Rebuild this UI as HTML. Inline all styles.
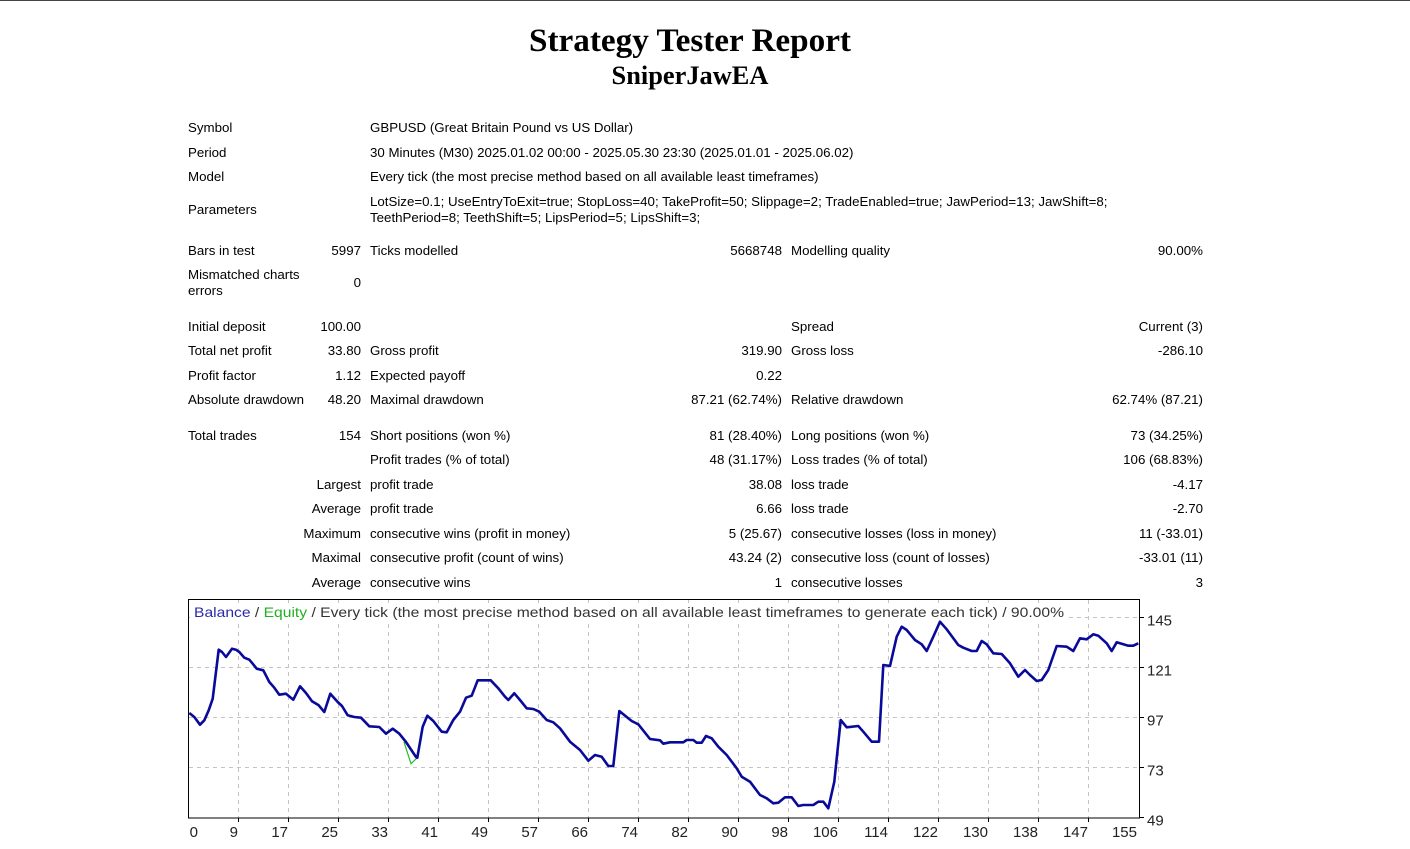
<!DOCTYPE html>
<html>
<head>
<meta charset="utf-8">
<style>
html,body{margin:0;padding:0;width:1410px;height:849px;overflow:hidden;background:#fff;}
body{position:relative;font-family:"Liberation Sans",Arial,sans-serif;font-size:13.3px;color:#000;}
.topline{position:absolute;left:0;top:0;width:1410px;height:1px;background:#444;}
.h1{position:absolute;left:390px;width:600px;text-align:center;font-family:"Liberation Serif","Times New Roman",serif;font-weight:bold;white-space:nowrap;}
.t{position:absolute;line-height:16px;white-space:nowrap;}
.c1{left:188px;}
.c3{left:370px;}
.c5{left:791px;}
.r2{right:1049px;text-align:right;}
.r4{right:628px;text-align:right;}
.r6{right:207px;text-align:right;}
</style>
</head>
<body>
<div class="topline"></div>
<div class="h1" style="top:21px;font-size:33.2px;line-height:40px;">Strategy Tester Report</div>
<div class="h1" style="top:59px;font-size:26.4px;line-height:32px;">SniperJawEA</div>

<div class="t c1" style="top:120px">Symbol</div>
<div class="t c3" style="top:120px">GBPUSD (Great Britain Pound vs US Dollar)</div>

<div class="t c1" style="top:145px">Period</div>
<div class="t c3" style="top:145px">30 Minutes (M30) 2025.01.02 00:00 - 2025.05.30 23:30 (2025.01.01 - 2025.06.02)</div>

<div class="t c1" style="top:169px">Model</div>
<div class="t c3" style="top:169px">Every tick (the most precise method based on all available least timeframes)</div>

<div class="t c1" style="top:202px">Parameters</div>
<div class="t c3" style="top:194px">LotSize=0.1; UseEntryToExit=true; StopLoss=40; TakeProfit=50; Slippage=2; TradeEnabled=true; JawPeriod=13; JawShift=8;</div>
<div class="t c3" style="top:210px">TeethPeriod=8; TeethShift=5; LipsPeriod=5; LipsShift=3;</div>

<div class="t c1" style="top:243px">Bars in test</div>
<div class="t r2" style="top:243px">5997</div>
<div class="t c3" style="top:243px">Ticks modelled</div>
<div class="t r4" style="top:243px">5668748</div>
<div class="t c5" style="top:243px">Modelling quality</div>
<div class="t r6" style="top:243px">90.00%</div>

<div class="t c1" style="top:267px">Mismatched charts</div>
<div class="t c1" style="top:283px">errors</div>
<div class="t r2" style="top:275px">0</div>

<div class="t c1" style="top:319px">Initial deposit</div>
<div class="t r2" style="top:319px">100.00</div>
<div class="t c5" style="top:319px">Spread</div>
<div class="t r6" style="top:319px">Current (3)</div>

<div class="t c1" style="top:343px">Total net profit</div>
<div class="t r2" style="top:343px">33.80</div>
<div class="t c3" style="top:343px">Gross profit</div>
<div class="t r4" style="top:343px">319.90</div>
<div class="t c5" style="top:343px">Gross loss</div>
<div class="t r6" style="top:343px">-286.10</div>

<div class="t c1" style="top:368px">Profit factor</div>
<div class="t r2" style="top:368px">1.12</div>
<div class="t c3" style="top:368px">Expected payoff</div>
<div class="t r4" style="top:368px">0.22</div>

<div class="t c1" style="top:392px">Absolute drawdown</div>
<div class="t r2" style="top:392px">48.20</div>
<div class="t c3" style="top:392px">Maximal drawdown</div>
<div class="t r4" style="top:392px">87.21 (62.74%)</div>
<div class="t c5" style="top:392px">Relative drawdown</div>
<div class="t r6" style="top:392px">62.74% (87.21)</div>

<div class="t c1" style="top:428px">Total trades</div>
<div class="t r2" style="top:428px">154</div>
<div class="t c3" style="top:428px">Short positions (won %)</div>
<div class="t r4" style="top:428px">81 (28.40%)</div>
<div class="t c5" style="top:428px">Long positions (won %)</div>
<div class="t r6" style="top:428px">73 (34.25%)</div>

<div class="t c3" style="top:452px">Profit trades (% of total)</div>
<div class="t r4" style="top:452px">48 (31.17%)</div>
<div class="t c5" style="top:452px">Loss trades (% of total)</div>
<div class="t r6" style="top:452px">106 (68.83%)</div>

<div class="t r2" style="top:477px">Largest</div>
<div class="t c3" style="top:477px">profit trade</div>
<div class="t r4" style="top:477px">38.08</div>
<div class="t c5" style="top:477px">loss trade</div>
<div class="t r6" style="top:477px">-4.17</div>

<div class="t r2" style="top:501px">Average</div>
<div class="t c3" style="top:501px">profit trade</div>
<div class="t r4" style="top:501px">6.66</div>
<div class="t c5" style="top:501px">loss trade</div>
<div class="t r6" style="top:501px">-2.70</div>

<div class="t r2" style="top:526px">Maximum</div>
<div class="t c3" style="top:526px">consecutive wins (profit in money)</div>
<div class="t r4" style="top:526px">5 (25.67)</div>
<div class="t c5" style="top:526px">consecutive losses (loss in money)</div>
<div class="t r6" style="top:526px">11 (-33.01)</div>

<div class="t r2" style="top:550px">Maximal</div>
<div class="t c3" style="top:550px">consecutive profit (count of wins)</div>
<div class="t r4" style="top:550px">43.24 (2)</div>
<div class="t c5" style="top:550px">consecutive loss (count of losses)</div>
<div class="t r6" style="top:550px">-33.01 (11)</div>

<div class="t r2" style="top:575px">Average</div>
<div class="t c3" style="top:575px">consecutive wins</div>
<div class="t r4" style="top:575px">1</div>
<div class="t c5" style="top:575px">consecutive losses</div>
<div class="t r6" style="top:575px">3</div>

<svg width="1410" height="849" style="position:absolute;left:0;top:0" xmlns="http://www.w3.org/2000/svg">
  <g stroke="#c4c4c4" stroke-width="1" stroke-dasharray="4,4" fill="none">
    <line x1="189" y1="617.5" x2="1139" y2="617.5"/>
    <line x1="189" y1="667.5" x2="1139" y2="667.5"/>
    <line x1="189" y1="717.5" x2="1139" y2="717.5"/>
    <line x1="189" y1="767.5" x2="1139" y2="767.5"/>
    <line x1="238.5" y1="600" x2="238.5" y2="818"/>
    <line x1="288.5" y1="600" x2="288.5" y2="818"/>
    <line x1="338.5" y1="600" x2="338.5" y2="818"/>
    <line x1="388.5" y1="600" x2="388.5" y2="818"/>
    <line x1="438.5" y1="600" x2="438.5" y2="818"/>
    <line x1="488.5" y1="600" x2="488.5" y2="818"/>
    <line x1="538.5" y1="600" x2="538.5" y2="818"/>
    <line x1="588.5" y1="600" x2="588.5" y2="818"/>
    <line x1="638.5" y1="600" x2="638.5" y2="818"/>
    <line x1="688.5" y1="600" x2="688.5" y2="818"/>
    <line x1="738.5" y1="600" x2="738.5" y2="818"/>
    <line x1="788.5" y1="600" x2="788.5" y2="818"/>
    <line x1="838.5" y1="600" x2="838.5" y2="818"/>
    <line x1="888.5" y1="600" x2="888.5" y2="818"/>
    <line x1="938.5" y1="600" x2="938.5" y2="818"/>
    <line x1="988.5" y1="600" x2="988.5" y2="818"/>
    <line x1="1038.5" y1="600" x2="1038.5" y2="818"/>
    <line x1="1088.5" y1="600" x2="1088.5" y2="818"/>
  </g>
  <rect x="190" y="603" width="876" height="18" fill="#fff"/>
  <rect x="188.5" y="599.5" width="951" height="218.5" fill="none" stroke="#000" stroke-width="1"/>
  <g stroke="#000" stroke-width="1">
    <line x1="1140" y1="617.5" x2="1144" y2="617.5"/>
    <line x1="1140" y1="667.5" x2="1144" y2="667.5"/>
    <line x1="1140" y1="717.5" x2="1144" y2="717.5"/>
    <line x1="1140" y1="767.5" x2="1144" y2="767.5"/>
    <line x1="1140" y1="817.5" x2="1144" y2="817.5"/>
    <line x1="238.5" y1="818" x2="238.5" y2="822"/>
    <line x1="288.5" y1="818" x2="288.5" y2="822"/>
    <line x1="338.5" y1="818" x2="338.5" y2="822"/>
    <line x1="388.5" y1="818" x2="388.5" y2="822"/>
    <line x1="438.5" y1="818" x2="438.5" y2="822"/>
    <line x1="488.5" y1="818" x2="488.5" y2="822"/>
    <line x1="538.5" y1="818" x2="538.5" y2="822"/>
    <line x1="588.5" y1="818" x2="588.5" y2="822"/>
    <line x1="638.5" y1="818" x2="638.5" y2="822"/>
    <line x1="688.5" y1="818" x2="688.5" y2="822"/>
    <line x1="738.5" y1="818" x2="738.5" y2="822"/>
    <line x1="788.5" y1="818" x2="788.5" y2="822"/>
    <line x1="838.5" y1="818" x2="838.5" y2="822"/>
    <line x1="888.5" y1="818" x2="888.5" y2="822"/>
    <line x1="938.5" y1="818" x2="938.5" y2="822"/>
    <line x1="988.5" y1="818" x2="988.5" y2="822"/>
    <line x1="1038.5" y1="818" x2="1038.5" y2="822"/>
    <line x1="1088.5" y1="818" x2="1088.5" y2="822"/>
  </g>
  <polyline fill="none" stroke="#22bb22" stroke-width="1.2" points="404,742 411,763.7 417,758"/>
  <polyline fill="none" stroke="#0a0a9a" stroke-width="2.6" stroke-linejoin="round" points="189.3,713 194.3,717 200,724.7 204.3,720.3 208.7,710.3 212.7,698.7 218.7,649.7 222,652 226,657 232,648.7 236,649.7 239.3,652 244.3,657.7 249.3,659.7 252.7,663.7 256.7,668.7 263.3,670.3 269.3,682 274.3,687.7 279.3,694.7 286,693.7 293.3,699.7 300,686.3 306,693 312,701.3 318.7,705.3 324.3,712 330.3,693.7 337.7,702 342,706 347.7,715.3 354.3,717 361,717.7 369.3,726.3 379.3,727 386,733.7 392.7,728.7 399.3,733.7 406,742 416,757 417.3,757.7 422.7,726.7 427.3,715.7 433.3,721 441.7,731.7 446.7,732.3 453.3,720 460,711.7 466,697.7 471.7,695.7 477.7,680.3 490.7,680.3 498.3,688.3 505,696.7 508.3,700 514.3,693.3 520,700 526.7,708.3 533.3,709 539.3,711.7 546.7,720 553.3,722.3 560,728.3 570,741.7 580,750 588.3,760.7 595,755 601.7,756.7 608.3,766 613.3,766 619.3,711 623.3,714.3 631.7,721 638.3,724.3 650,739 660,740.3 663.3,743.7 670,742.3 683.3,742.3 686.7,740 693.3,740 696.7,742.7 701.7,742.7 706,736 711.7,738.3 718.3,746.7 726.7,755 736.7,768.3 741.7,776.7 750,781.7 760,795 766.7,798.3 773.3,803.3 778.3,802.7 785,797.3 791.7,797.3 798.3,806 803.3,805 813.3,805 818.3,801.7 823.3,801.7 828.3,808.3 834.3,781.7 840.7,720 846.7,727.3 858.3,726 863.3,731.7 871.7,741.7 879,741.7 883.3,665 890,666 896.7,636.7 901.7,626.7 906.7,630 915,640 921.7,644.3 926.7,651 933.3,636.7 940,621.7 946.7,629.3 958.3,645 963.3,647.7 971.7,651 976.7,651 981.7,641 986.7,644.3 993.3,653.3 1001.7,654 1010,663.3 1018.3,676.7 1025,670 1030,675 1036.7,681 1041.7,680 1048.3,670 1056.7,646 1066.7,646.7 1073.3,651 1080,638.3 1086.7,639.3 1093.3,634.3 1098.3,635.7 1106.7,643.3 1111.7,651 1116.7,642.3 1123.3,644.3 1128.3,645.7 1133.3,645.7 1138.3,643.3"/>
  <text x="194" y="617" font-family="Liberation Sans, Arial, sans-serif" font-size="14" textLength="870" lengthAdjust="spacingAndGlyphs"><tspan fill="#2a2aa8">Balance</tspan><tspan fill="#333"> / </tspan><tspan fill="#22b022">Equity</tspan><tspan fill="#333"> / Every tick (the most precise method based on all available least timeframes to generate each tick) / 90.00%</tspan></text>
  <g font-family="Liberation Sans, Arial, sans-serif" font-size="15" fill="#222">
    <text x="1147" y="625.5">145</text>
    <text x="1147" y="675.5">121</text>
    <text x="1147" y="725.5">97</text>
    <text x="1147" y="775.5">73</text>
    <text x="1147" y="825.5">49</text>
  </g>
  <g font-family="Liberation Sans, Arial, sans-serif" font-size="15" fill="#222" text-anchor="end">
    <text x="198" y="837">0</text>
    <text x="238" y="837">9</text>
    <text x="288" y="837">17</text>
    <text x="338" y="837">25</text>
    <text x="388" y="837">33</text>
    <text x="438" y="837">41</text>
    <text x="488" y="837">49</text>
    <text x="538" y="837">57</text>
    <text x="588" y="837">66</text>
    <text x="638" y="837">74</text>
    <text x="688" y="837">82</text>
    <text x="738" y="837">90</text>
    <text x="788" y="837">98</text>
    <text x="838" y="837">106</text>
    <text x="888" y="837">114</text>
    <text x="938" y="837">122</text>
    <text x="988" y="837">130</text>
    <text x="1038" y="837">138</text>
    <text x="1088" y="837">147</text>
    <text x="1137" y="837">155</text>
  </g>
</svg>
</body>
</html>
